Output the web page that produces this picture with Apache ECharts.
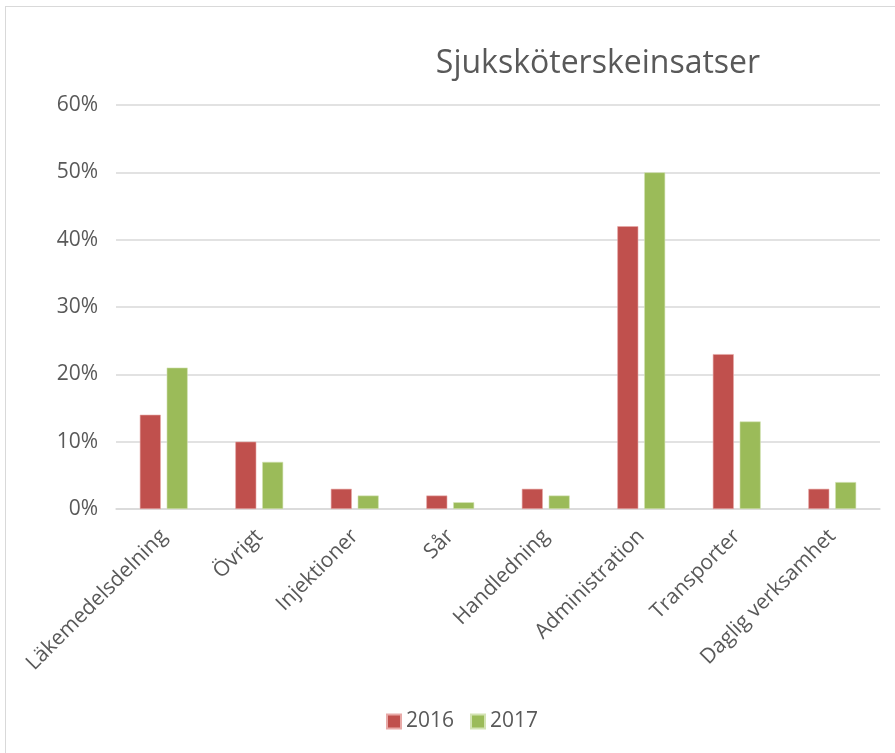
<!DOCTYPE html>
<html>
<head>
<meta charset="utf-8">
<script src="https://cdn.jsdelivr.net/npm/echarts@6/dist/echarts.min.js"></script>
<style>
  html, body { margin: 0; padding: 0; background: #fff; overflow: hidden; }
  #chart { position: absolute; left: 5px; top: 6px; width: 900px; height: 760px; border: 1px solid #d9d9d9; box-sizing: border-box; }
</style>
</head>
<body>
<div id="chart"></div>
<script>
// kategorier och värden (procent)
const categories = ["Läkemedelsdelning", "Övrigt", "Injektioner", "Sår", "Handledning", "Administration", "Transporter", "Daglig verksamhet"];
const values2016 = [14, 10, 3, 2, 3, 42, 23, 3];
const values2017 = [21, 7, 2, 1, 2, 50, 13, 4];
const yTicks = [0, 10, 20, 30, 40, 50, 60];

const textColor = "#595959";
const font = "'Open Sans', 'Liberation Sans', sans-serif";

let chart = echarts.init(document.getElementById("chart"));
let option = {
  animation: false,
  title: {
    text: "Sjuksköterskeinsatser",
    left: 587,
    top: 52,
    textAlign: "center",
    textVerticalAlign: "middle",
    textStyle: { color: textColor, fontSize: 32, fontWeight: "normal", fontFamily: font },
  },
  grid: { left: 110, right: 24, top: 98, bottom: 256, containLabel: false },
  legend: {
    data: ["2016", "2017"],
    left: 375,
    top: 699,
    itemWidth: 14,
    itemHeight: 14,
    itemGap: 16,
    icon: "rect",
    textStyle: { color: textColor, fontSize: 21, fontFamily: font },
  },
  xAxis: {
    type: "category",
    data: categories,
    axisLine: { lineStyle: { color: "#d9d9d9", width: 1.5 } },
    axisTick: { show: false },
    axisLabel: {
      interval: 0,
      rotate: 45,
      margin: 24,
      color: textColor,
      fontSize: 21,
      fontFamily: font,
    },
  },
  yAxis: {
    type: "value",
    min: 0,
    max: 60,
    interval: 10,
    axisLine: { show: false },
    axisTick: { show: false },
    splitLine: { lineStyle: { color: "#d9d9d9", width: 1.5 } },
    axisLabel: {
      margin: 18,
      color: textColor,
      fontSize: 21,
      fontFamily: font,
      formatter: (v) => (yTicks.includes(v) ? v + "%" : ""),
    },
  },
  series: [
    {
      name: "2016",
      type: "bar",
      data: values2016,
      barWidth: 21,
      barGap: "28%",
      itemStyle: { color: "#c0504d", borderColor: "#e8a9a7", borderWidth: 0.6 },
    },
    {
      name: "2017",
      type: "bar",
      data: values2017,
      barWidth: 21,
      itemStyle: { color: "#9bbb59", borderColor: "#d3e3b3", borderWidth: 0.6 },
    },
  ],
};
chart.setOption(option);
window.addEventListener("resize", () => chart.resize());
</script>
</body>
</html>
